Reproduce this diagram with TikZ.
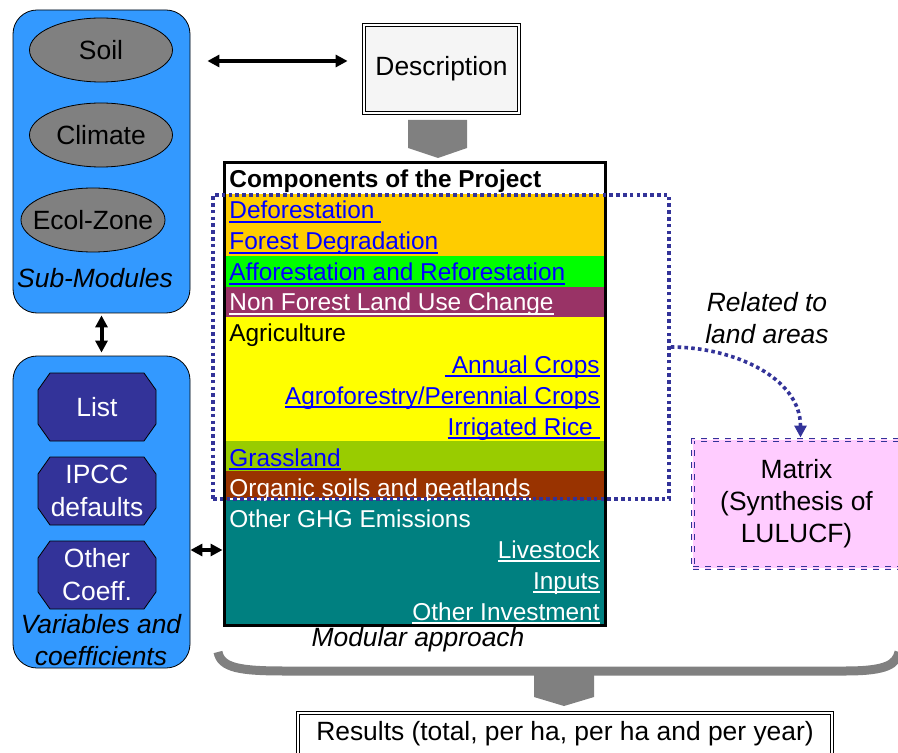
\documentclass[tikz,border=0pt]{standalone}
\usepackage{fontspec}
\setmainfont{Liberation Sans}
\usetikzlibrary{shapes.geometric,arrows.meta}

\definecolor{skyblu}{HTML}{3399FF}
\definecolor{navy}{HTML}{333399}
\definecolor{midgray}{HTML}{808080}
\definecolor{orng}{HTML}{FFCC00}
\definecolor{lgreen}{HTML}{00FF00}
\definecolor{plum}{HTML}{993366}
\definecolor{lemon}{HTML}{FFFF00}
\definecolor{grass}{HTML}{99CC00}
\definecolor{rust}{HTML}{993300}
\definecolor{tealc}{HTML}{008080}
\definecolor{linkblue}{HTML}{0000FF}
\definecolor{pinkc}{HTML}{FFCCFF}

\newcommand{\lnk}[1]{\leavevmode\setbox0\hbox{#1}\rlap{\rule[-1.9pt]{\wd0}{0.8pt}}\box0}

\tikzset{
  every node/.style={font=\fontsize{13.2}{16}\selectfont},
  modbox/.style={draw=black, fill=skyblu, rounded corners=12pt, inner sep=0pt, minimum width=88.5pt},
  subm/.style={ellipse, draw=black, fill=midgray, minimum width=71.5pt, minimum height=32pt, inner sep=0pt},
  octo/.pic={\draw[black, fill=navy] (-29.5pt,-8.5pt) -- (-29.5pt,8.5pt) -- (-23.5pt,17pt) -- (23.5pt,17pt)
    -- (29.5pt,8.5pt) -- (29.5pt,-8.5pt) -- (23.5pt,-17pt) -- (-23.5pt,-17pt) -- cycle;},
  varbtxt/.style={text=white, align=center, inner sep=0pt, font=\fontsize{13.2}{16.5}\selectfont},
  dblbox/.style={draw=black, double, double distance=1.2pt, line width=0.4pt, inner sep=0pt},
  lbl/.style={font=\fontsize{13.2}{16}\selectfont\itshape, align=center, inner sep=0pt},
  rowl/.style={anchor=base west, inner sep=0pt, font=\fontsize{12.2}{14}\selectfont},
  rowr/.style={anchor=base east, inner sep=0pt, font=\fontsize{12.2}{14}\selectfont},
  dblarr/.style={<->, line width=2pt},
  dotline/.style={draw=navy, line width=1.8pt, dash pattern=on 1.8pt off 1.6pt},
  blockarr/.style={fill=midgray},
}

\begin{document}
\begin{tikzpicture}[x=0.5pt, y=-0.5pt, >={Triangle[length=6pt,width=6pt]}]
    \useasboundingbox (0,0) rectangle (898,753);

    % sub-modules
    \node[modbox, minimum height=151.5pt] (submod) at (101.5,161.5) {};
    \node[subm, label={center:Soil}] (soil) at (101,50) {};
    \node[subm, label={center:Climate}] (clim) at (101,135) {};
    \node[subm, minimum width=72pt, label={center:Ecol-Zone}] (ecol) at (93,220) {};
    \node[lbl] (sublbl) at (95,278) {Sub-Modules};

    % variables and coefficients
    \node[modbox, minimum height=156pt] (varbox) at (101.5,512) {};
    \pic at (97,407) {octo};
    \node[varbtxt] (list) at (97,407) {List};
    \pic at (97,491) {octo};
    \node[varbtxt] (ipcc) at (97,491) {IPCC\\defaults};
    \pic at (97,575) {octo};
    \node[varbtxt] (coef) at (97,575) {Other\\Coeff.};
    \node[lbl] (varlbl) at (101,640) {Variables and\\coefficients};

    \draw[dblarr, shorten <=1pt, shorten >=1.5pt] (submod.south) -- (varbox.north);

    % description
    \node[dblbox, fill=white!96!black, minimum width=77.5pt, minimum height=44pt] (desc) at (441.5,69) {Description};
    \path (desc.west) ++(-8pt,4pt) coordinate (dR);
    \path (dR -| submod.east) ++(8.5pt,0) coordinate (dL);
    \draw[dblarr] (dL) -- (dR);

    \fill[blockarr] (408,120) -- (467,120) -- (467,148) -- (438,158) -- (408,148) -- cycle;

    % components of the project
    \fill[white] (224,163) rectangle (605,194);
    \fill[orng] (224,194) rectangle (605,256);
    \fill[lgreen] (224,256) rectangle (605,287);
    \fill[plum] (224,287) rectangle (605,317);
    \fill[lemon] (224,317) rectangle (605,441);
    \fill[grass] (224,441) rectangle (605,471);
    \fill[rust] (224,471) rectangle (605,500);
    \fill[tealc] (224,500) rectangle (605,625);
    \node[draw, line width=1.5pt, minimum width=190.5pt, minimum height=231pt, inner sep=0pt] (comp) at (414.5,394) {};

    \node[rowl, font=\fontsize{12.2}{14}\selectfont\bfseries] (hdr) at (229,188) {Components of the Project};
    \node[rowl, text=linkblue] (defo) at (229,219) {\lnk{Deforestation\ }};
    \node[rowl, text=linkblue] (fdeg) at (229,250) {\lnk{Forest Degradation}};
    \node[rowl, text=linkblue] (affo) at (229,281) {\lnk{Afforestation and Reforestation}};
    \node[rowl, text=white] (nflu) at (229,311) {\lnk{Non Forest Land Use Change}};
    \node[rowl] (agri) at (229,342) {Agriculture};
    \node[rowr, text=linkblue] (annc) at (600,373) {\lnk{\ Annual Crops}};
    \node[rowr, text=linkblue] (agfo) at (600,404) {\lnk{Agroforestry/Perennial Crops}};
    \node[rowr, text=linkblue] (irri) at (600,435) {\lnk{Irrigated Rice\ }};
    \node[rowl, text=linkblue] (gras) at (229,466) {\lnk{Grassland}};
    \node[rowl, text=white] (orgs) at (229,496) {\lnk{Organic soils and peatlands}};
    \node[rowl, text=white] (ghg) at (229,527) {Other GHG Emissions};
    \node[rowr, text=white] (lvst) at (600,558) {\lnk{Livestock}};
    \node[rowr, text=white] (inpt) at (600,589) {\lnk{Inputs}};
    \node[rowr, text=white] (oinv) at (600,620) {\lnk{Other Investment}};

    \path (varbox.east) ++(0,-19pt) coordinate (vE);
    \draw[dblarr] (vE) -- (vE -| comp.west);

    % land areas
    \node[dotline, minimum width=228pt, minimum height=152pt, inner sep=0pt] (landgrp) at (441,347) {};
    \node[lbl] (rellbl) at (767,318) {Related to\\land areas};

    \node[draw=navy, dashed, double=pinkc, double distance=1.2pt, line width=0.5pt, fill=pinkc,
      minimum width=103.5pt, minimum height=64pt, align=center, inner sep=0pt] (synth) at (796.5,504)
      {Matrix\\(Synthesis of\\LULUCF)};
    \draw[dotline, ->, shorten >=1pt] (landgrp.east) to[out=0, in=90] ([xshift=2pt]synth.north);

    \node[lbl] (modlbl) at (418,640) {Modular approach};

    % brace and results
    \draw[midgray, line width=4.5pt] (218,652) .. controls (221,668) and (240,671) .. (285,671)
      -- (845,671) .. controls (888,671) and (896,664) .. (899,652);
    \fill[blockarr] (534,671) -- (594,671) -- (594,697) -- (564,706) -- (534,697) -- cycle;

    \node[dblbox, fill=white, minimum width=267pt, minimum height=21pt] (res) at (565,734)
      {Results (total, per ha, per ha and per year)};
\end{tikzpicture}
\end{document}
